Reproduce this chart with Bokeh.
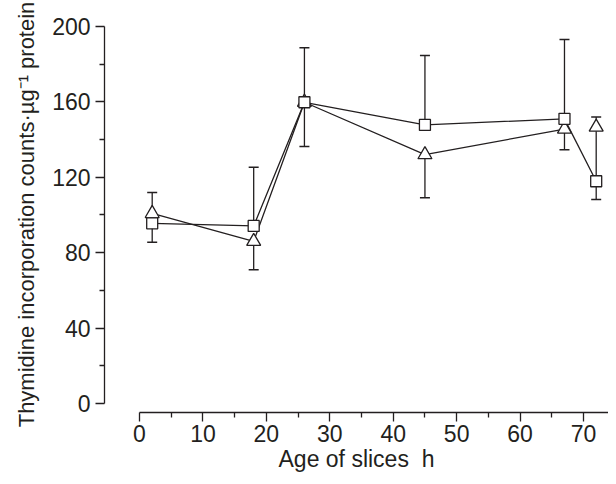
from bokeh.plotting import figure
from bokeh.models import Range1d, FixedTicker
from bokeh.embed import file_html
from bokeh.resources import INLINE

# ---- data ----
hours = [2, 18, 26, 45, 67, 72]

sq_mean = [95.6, 94.2, 159.8, 147.8, 151.0, 117.9]
sq_lo = [85.6, 94.2, 159.8, 147.8, 151.0, 108.2]
sq_hi = [95.6, 125.3, 188.7, 184.6, 193.1, 152.0]

tri_hours = [2, 18, 26, 45, 67, 72]
tri_mean = [100.8, 86.0, 159.8, 132.0, 145.6, 146.6]
tri_lo = [100.8, 70.9, 136.3, 109.1, 134.6, 146.6]
tri_hi = [112.0, 86.0, 159.8, 132.0, 145.6, 146.6]
tri_line_n = 5  # triangle series line joins the first five time points

x_ticks = [0, 10, 20, 30, 40, 50, 60, 70]
x_minor = [5, 15, 25, 35, 45, 55, 65]
y_ticks = [0, 40, 80, 120, 160, 200]
y_minor = [20, 60, 100, 140, 180]

x_title = "Age of slices\u00a0 h"
y_title = "Thymidine incorporation counts\u00b7\u00b5g\u207b\u00b9 protein"

INK = "#231f20"
FONT = "Liberation Sans"
FS = "23px"

p = figure(width=608, height=476, output_backend="svg", toolbar_location=None,
           x_range=Range1d(-5.52, 73.94), y_range=Range1d(-4.77, 205.3),
           min_border_left=104, min_border_right=0, min_border_top=16,
           min_border_bottom=64)
p.outline_line_color = None
p.grid.visible = False
p.background_fill_color = "white"

for ax in (p.xaxis[0], p.yaxis[0]):
    ax.axis_line_color = INK
    ax.axis_line_width = 1.3
    ax.major_tick_line_color = INK
    ax.minor_tick_line_color = INK
    ax.major_tick_line_width = 1.3
    ax.minor_tick_line_width = 1.3
    ax.major_tick_out = 9
    ax.major_tick_in = 0
    ax.minor_tick_out = 5
    ax.minor_tick_in = 0
    ax.major_label_text_font = FONT
    ax.major_label_text_font_size = FS
    ax.major_label_text_color = INK
    ax.axis_label_text_font = FONT
    ax.axis_label_text_font_size = FS
    ax.axis_label_text_font_style = "normal"
    ax.axis_label_text_color = INK

p.yaxis.axis_label_text_font_size = "22px"
p.xaxis.bounds = (0, 73.94)
p.yaxis.bounds = (0, 200)
p.xaxis.ticker = FixedTicker(ticks=x_ticks, minor_ticks=x_minor)
p.yaxis.ticker = FixedTicker(ticks=y_ticks, minor_ticks=y_minor)
p.xaxis.major_label_standoff = 3
p.xaxis.axis_label_standoff = 1
p.yaxis.major_label_standoff = 5
p.yaxis.axis_label_standoff = 10
p.xaxis.axis_label = x_title
p.yaxis.axis_label = y_title

# connecting lines
p.line(tri_hours[:tri_line_n], tri_mean[:tri_line_n], line_color=INK, line_width=1.3)
p.line(hours, sq_mean, line_color=INK, line_width=1.3)

# error bars (one-sided, as in the reference)
p.segment(x0=tri_hours, y0=tri_lo, x1=tri_hours, y1=tri_hi, line_color=INK, line_width=1.3)
p.segment(x0=hours, y0=sq_lo, x1=hours, y1=sq_hi, line_color=INK, line_width=1.3)

cap_x, cap_y = [], []
for xs, m, lo, hi in ((tri_hours, tri_mean, tri_lo, tri_hi), (hours, sq_mean, sq_lo, sq_hi)):
    for x, mv, l, h in zip(xs, m, lo, hi):
        if l < mv:
            cap_x.append(x); cap_y.append(l)
        if h > mv:
            cap_x.append(x); cap_y.append(h)
p.scatter(cap_x, cap_y, marker="dash", size=10, line_color=INK, line_width=1.5)

# markers
p.scatter(tri_hours, tri_mean, marker="triangle", size=14, fill_color="white",
          line_color=INK, line_width=1.3)
p.scatter(hours, sq_mean, marker="square", size=11, fill_color="white",
          line_color=INK, line_width=1.3)

open("out.html", "w").write(file_html(p, INLINE))
